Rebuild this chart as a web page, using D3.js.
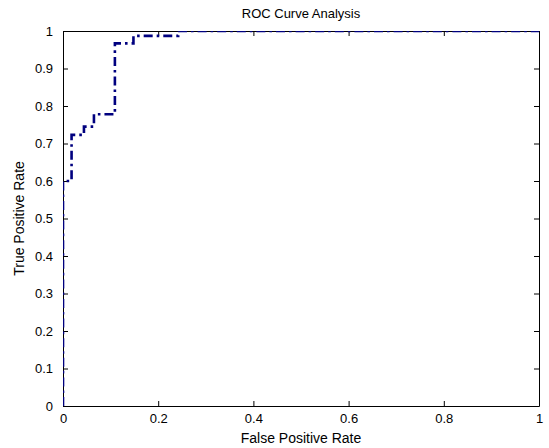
<!DOCTYPE html>
<html>
<head>
<meta charset="utf-8">
<script src="https://cdn.jsdelivr.net/npm/d3@7"></script>
<style>
  body { margin: 0; background: #fff; }
  text { font-family: "Liberation Sans", Arial, sans-serif; fill: #000; }
</style>
</head>
<body>
<div id="chart"></div>
<script>
// ROC step corners (stepAfter: horizontal, then vertical)
const fpr = [0, 0, 0.018, 0.044, 0.065, 0.109, 0.148, 0.242, 1]
const tpr = [0, 0.6, 0.723, 0.745, 0.778, 0.967, 0.987, 1, 1]
const xTicks = [0, 0.2, 0.4, 0.6, 0.8, 1]
const yTicks = [0, 0.1, 0.2, 0.3, 0.4, 0.5, 0.6, 0.7, 0.8, 0.9, 1]

const dms = {
  width: 549,
  height: 448,
  margin: { top: 31, right: 10, bottom: 42, left: 63 }
}
dms.contentWidth = dms.width - dms.margin.left - dms.margin.right
dms.contentHeight = dms.height - dms.margin.top - dms.margin.bottom

const svg = d3.select('#chart').append('svg')
  .attr('width', dms.width)
  .attr('height', dms.height)

const content = svg.append('g')
  .attr('transform', `translate(${dms.margin.left},${dms.margin.top})`)

const xScale = d3.scaleLinear().domain([0, 1]).range([0, dms.contentWidth])
const yScale = d3.scaleLinear().domain([0, 1]).range([dms.contentHeight, 0])

const fmt = d => d === 0 || d === 1 ? String(d) : d3.format('.1f')(d)

// axes, ticks inside on all four sides
const tickLen = 5
const bottomAxis = content.append('g')
  .attr('transform', `translate(0,${dms.contentHeight})`)
  .call(d3.axisBottom(xScale).tickValues(xTicks).tickFormat(fmt)
    .tickSizeInner(-tickLen).tickSizeOuter(0).tickPadding(10))
const topAxis = content.append('g')
  .call(d3.axisTop(xScale).tickValues(xTicks).tickFormat('')
    .tickSizeInner(-tickLen).tickSizeOuter(0))
const leftAxis = content.append('g')
  .call(d3.axisLeft(yScale).tickValues(yTicks).tickFormat(fmt)
    .tickSizeInner(-tickLen).tickSizeOuter(0).tickPadding(10))
const rightAxis = content.append('g')
  .attr('transform', `translate(${dms.contentWidth},0)`)
  .call(d3.axisRight(yScale).tickValues(yTicks).tickFormat('')
    .tickSizeInner(-tickLen).tickSizeOuter(0))

content.selectAll('.domain').attr('stroke', '#000')
content.selectAll('.tick line').attr('stroke', '#000')
content.selectAll('.tick text')
  .style('font-size', '13px')
  .style('font-family', '"Liberation Sans", Arial, sans-serif')
  .attr('fill', '#000')
bottomAxis.selectAll('.tick text').attr('dy', '0.55em')

// curve
content.append('clipPath').attr('id', 'plot-clip')
  .append('rect')
  .attr('width', dms.contentWidth)
  .attr('height', dms.contentHeight)

const rocData = fpr.map((f, i) => ({ f, t: tpr[i] }))
const lineGen = d3.line()
  .x(d => xScale(d.f))
  .y(d => yScale(d.t))
  .curve(d3.curveStepAfter)

content.append('path')
  .datum(rocData)
  .attr('clip-path', 'url(#plot-clip)')
  .attr('d', lineGen)
  .attr('fill', 'none')
  .attr('stroke', '#00007f')
  .attr('stroke-width', 2.6)
  .attr('stroke-dasharray', '9,4,2.6,4')

// titles
svg.append('text')
  .attr('x', dms.margin.left + dms.contentWidth / 2)
  .attr('y', 18)
  .attr('text-anchor', 'middle')
  .style('font-size', '13px')
  .text('ROC Curve Analysis')

svg.append('text')
  .attr('x', dms.margin.left + dms.contentWidth / 2)
  .attr('y', 443)
  .attr('text-anchor', 'middle')
  .style('font-size', '14px')
  .text('False Positive Rate')

svg.append('text')
  .attr('transform', `translate(24,${dms.margin.top + dms.contentHeight / 2}) rotate(-90)`)
  .attr('text-anchor', 'middle')
  .style('font-size', '14px')
  .text('True Positive Rate')
</script>
</body>
</html>
